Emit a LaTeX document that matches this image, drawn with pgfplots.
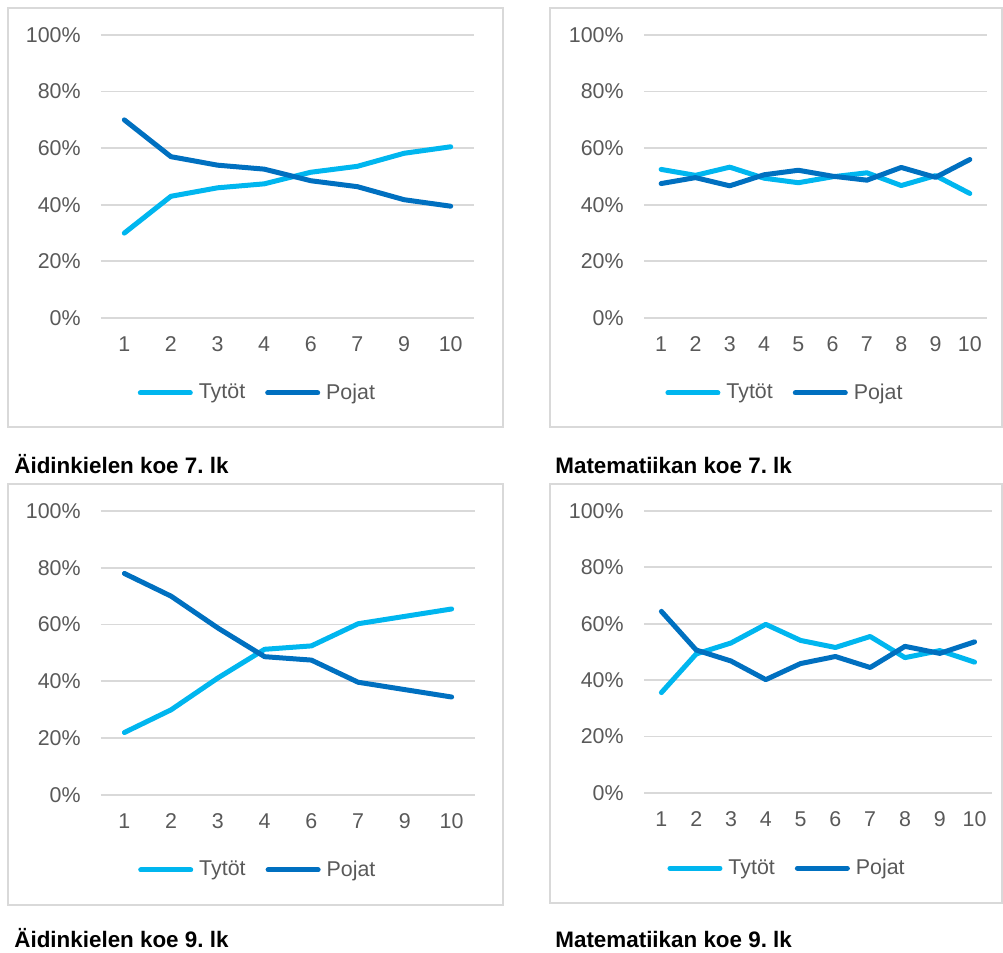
\documentclass[border=0pt]{standalone}
\usepackage{fontspec}
\setmainfont{Liberation Sans}
\usepackage{pgfplots}
\pgfplotsset{compat=1.18}
\frenchspacing

\definecolor{tytot}{HTML}{00B6EF}
\definecolor{pojat}{HTML}{0070C0}
\definecolor{gridgray}{HTML}{D9D9D9}
\definecolor{labelgray}{HTML}{595959}

\newcommand{\lbl}{\fontsize{10.7}{12}\selectfont}
\newcommand{\captfont}{\bfseries\fontsize{11.2}{13}\selectfont}

\pgfplotsset{
  panel/.style={
    anchor=south west,
    scale only axis,
    ymin=0, ymax=100,
    ytick={0,20,...,100},
    yticklabels={0\%,20\%,40\%,60\%,80\%,100\%},
    xtick=data,
    axis line style={draw=none},
    tick style={draw=none},
    ymajorgrids=true,
    major grid style={gridgray, line width=0.9pt},
    /pgf/number format/assume math mode=true,
    ticklabel style={font=\lbl, text=labelgray, inner sep=0pt},
    yticklabel style={anchor=east, xshift=-10pt},
    xticklabel style={anchor=north, yshift=-9pt},
    legend columns=2,
    legend style={draw=none, fill=none, anchor=center, font=\lbl,
      text=labelgray,
      /tikz/every odd column/.append style={column sep=1pt},
      /tikz/every even column/.append style={column sep=8pt}},
    legend image code/.code={\draw[##1, line cap=round] (0pt,0pt) -- (25pt,0pt);},
  },
  t/.style={tytot, line width=2.5pt, line join=round, line cap=round},
  p/.style={pojat, line width=2.5pt, line join=round, line cap=round},
}

\begin{document}
\begin{tikzpicture}
\useasboundingbox (0pt,0pt) rectangle (501.5pt,476.5pt);

% panel frames
\draw[gridgray, line width=1pt] (4pt,263pt) rectangle (251.5pt,472.5pt);
\draw[gridgray, line width=1pt] (275pt,263pt) rectangle (501pt,472.5pt);
\draw[gridgray, line width=1pt] (4pt,24pt) rectangle (251.5pt,234.5pt);
\draw[gridgray, line width=1pt] (275pt,25pt) rectangle (501pt,234.5pt);

% captions
\node[anchor=base west, inner sep=0pt, font=\captfont] at (7pt,239.5pt) {Äidinkielen koe 7. lk};
\node[anchor=base west, inner sep=0pt, font=\captfont] at (277.5pt,239.5pt) {Matematiikan koe 7. lk};
\node[anchor=base west, inner sep=0pt, font=\captfont] at (7pt,2.5pt) {Äidinkielen koe 9. lk};
\node[anchor=base west, inner sep=0pt, font=\captfont] at (277.5pt,2.5pt) {Matematiikan koe 9. lk};

% Äidinkielen koe 7. lk
\begin{axis}[panel, at={(50.5pt,317.5pt)}, width=186.5pt, height=141.5pt,
    xmin=-0.5, xmax=7.5, xticklabels={1,2,3,4,6,7,9,10},
    legend style={at={(0.422,-0.265)}}]
\addplot[t] coordinates {(0,30.0) (1,43.0) (2,46.0) (3,47.4) (4,51.5) (5,53.6) (6,58.2) (7,60.5)};
\addlegendentry{Tytöt}
\addplot[p] coordinates {(0,70.0) (1,57.0) (2,54.0) (3,52.6) (4,48.5) (5,46.4) (6,41.8) (7,39.5)};
\addlegendentry{Pojat}
\end{axis}

% Matematiikan koe 7. lk
\begin{axis}[panel, at={(322pt,317.5pt)}, width=171.5pt, height=141.5pt,
    xmin=-0.5, xmax=9.5, xticklabels={1,2,3,4,5,6,7,8,9,10},
    legend style={at={(0.414,-0.265)}}]
\addplot[t] coordinates {(0,52.5) (1,50.4) (2,53.3) (3,49.4) (4,47.8) (5,49.9) (6,51.3) (7,46.8) (8,50.3) (9,44.0)};
\addlegendentry{Tytöt}
\addplot[p] coordinates {(0,47.5) (1,49.6) (2,46.7) (3,50.6) (4,52.2) (5,50.1) (6,48.7) (7,53.2) (8,49.7) (9,56.0)};
\addlegendentry{Pojat}
\end{axis}

% Äidinkielen koe 9. lk
\begin{axis}[panel, at={(50.5pt,79pt)}, width=187pt, height=142pt,
    xmin=-0.5, xmax=7.5, xticklabels={1,2,3,4,6,7,9,10},
    legend style={at={(0.422,-0.264)}}]
\addplot[t] coordinates {(0,22.0) (1,30.0) (2,41.2) (3,51.3) (4,52.5) (5,60.3) (6,62.9) (7,65.5)};
\addlegendentry{Tytöt}
\addplot[p] coordinates {(0,78.0) (1,70.0) (2,58.8) (3,48.7) (4,47.5) (5,39.7) (6,37.1) (7,34.5)};
\addlegendentry{Pojat}
\end{axis}

% Matematiikan koe 9. lk
\begin{axis}[panel, at={(322pt,80pt)}, width=174pt, height=141pt,
    xmin=-0.5, xmax=9.5, xticklabels={1,2,3,4,5,6,7,8,9,10},
    legend style={at={(0.414,-0.267)}}]
\addplot[t] coordinates {(0,35.6) (1,49.3) (2,53.2) (3,59.8) (4,54.1) (5,51.6) (6,55.5) (7,48.0) (8,50.5) (9,46.4)};
\addlegendentry{Tytöt}
\addplot[p] coordinates {(0,64.4) (1,50.7) (2,46.8) (3,40.2) (4,45.9) (5,48.4) (6,44.5) (7,52.0) (8,49.5) (9,53.6)};
\addlegendentry{Pojat}
\end{axis}
\end{tikzpicture}
\end{document}
